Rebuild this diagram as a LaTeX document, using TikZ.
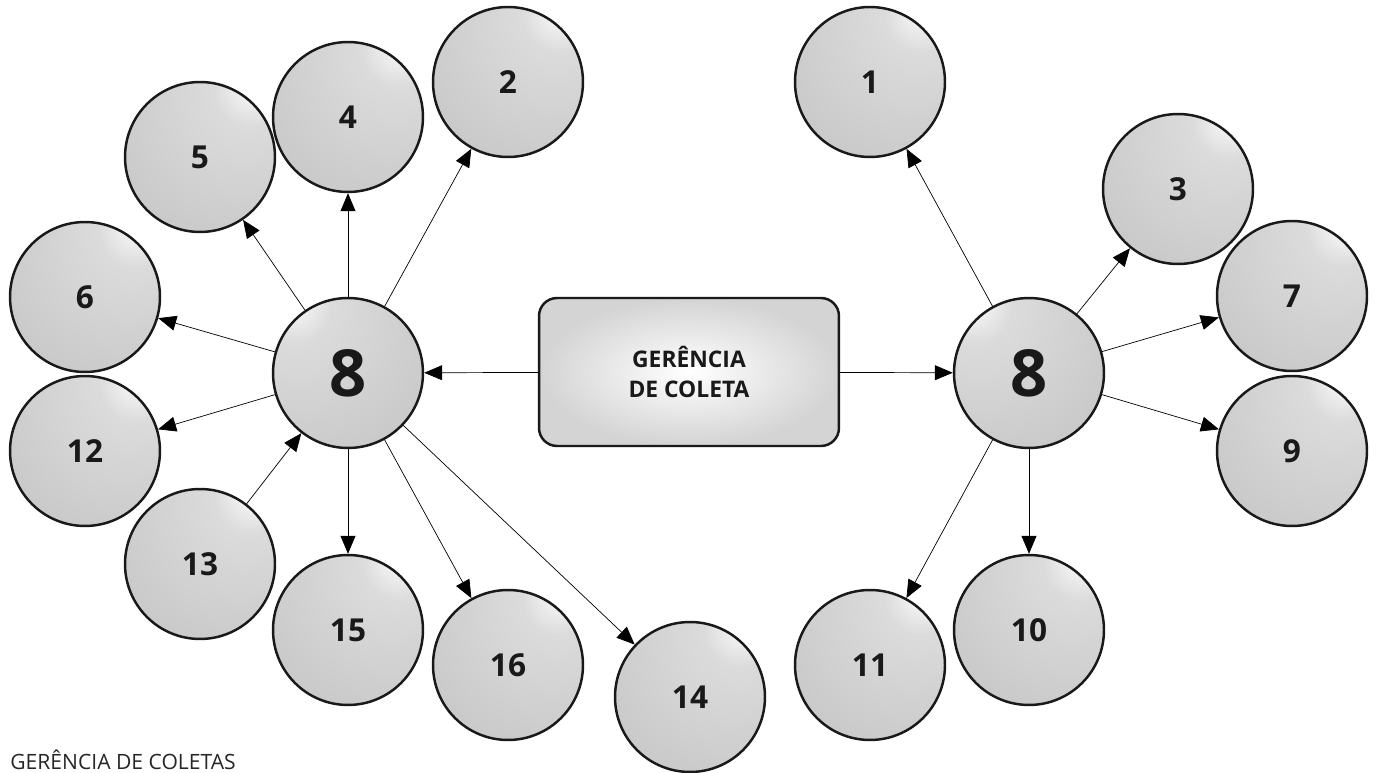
\documentclass[tikz,border=0pt]{standalone}
\usepackage{fontspec}
\setmainfont{Open Sans}
\usetikzlibrary{arrows.meta}
% sphere shadings: highlight top right (small balls) and top left (hubs)
\pgfdeclareradialshading{sphereR}{\pgfpoint{19bp}{25bp}}{color(0bp)=(white); color(12bp)=(gray!28); color(45bp)=(gray!43); color(100bp)=(gray!45)}
\pgfdeclareradialshading{sphereL}{\pgfpoint{-20bp}{25bp}}{color(0bp)=(white); color(12bp)=(gray!28); color(45bp)=(gray!43); color(100bp)=(gray!45)}
\tikzset{
    ->, % every connector is directed
    >={Triangle[length=3.6mm,width=3mm]}, % filled triangular heads
    line width=1.45pt,
    ball/.style={circle, draw=black!90, line width=1.4pt, minimum size=3.0cm, inner sep=0pt, shading=sphereR, text=black!90, font=\bfseries\fontsize{18}{18}\selectfont}, % the small spheres
    hub/.style={ball, shading=sphereL, font=\bfseries\fontsize{37}{37}\selectfont}, % the two big 8 spheres
    box/.style={rectangle, rounded corners=0.36cm, draw=black!90, line width=1.4pt, minimum width=6.0cm, minimum height=2.96cm, align=center, shading=radial, inner color=white, outer color=gray!34, text=black!90, font=\bfseries\fontsize{13}{17.5}\selectfont},
}

\begin{document}
\begin{tikzpicture}[x=0.02cm, y=-0.02cm]
        \useasboundingbox (0,0) rectangle (1377,773);
        \node[box] (box) at (689,372) {GERÊNCIA\\DE COLETA};
        \node[hub] (hubL) at (348,373) {8};
        \node[hub] (hubR) at (1029,373) {8};
        % left group
        \node[ball] (n2) at (508,82) {2};
        \node[ball] (n4) at (348,117) {4};
        \node[ball] (n5) at (200,157) {5};
        \node[ball] (n6) at (85,297) {6};
        \node[ball] (n12) at (85,451) {12};
        \node[ball] (n13) at (200,564) {13};
        \node[ball] (n15) at (348,630) {15};
        \node[ball] (n16) at (508,665) {16};
        \node[ball] (n14) at (690,697) {14};
        % right group
        \node[ball] (n1) at (870,82) {1};
        \node[ball] (n3) at (1178,189) {3};
        \node[ball] (n7) at (1292,296) {7};
        \node[ball] (n9) at (1292,451) {9};
        \node[ball] (n10) at (1029,630) {10};
        \node[ball] (n11) at (870,665) {11};

        \draw   (box) edge (hubL)
                (box) edge (hubR);
        \draw   (hubL) edge (n2) edge (n4) edge (n5) edge (n6) edge (n12)
                       edge (n15) edge (n16) edge (n14)
                (n13) edge (hubL);
        \draw   (hubR) edge (n1) edge (n3) edge (n7) edge (n9) edge (n10) edge (n11);

        \node[anchor=base west, inner sep=0pt, text=black!85, font=\fontsize{12}{12}\selectfont] (caption) at (10,769) {GERÊNCIA DE COLETAS};
    \end{tikzpicture}
\end{document}
